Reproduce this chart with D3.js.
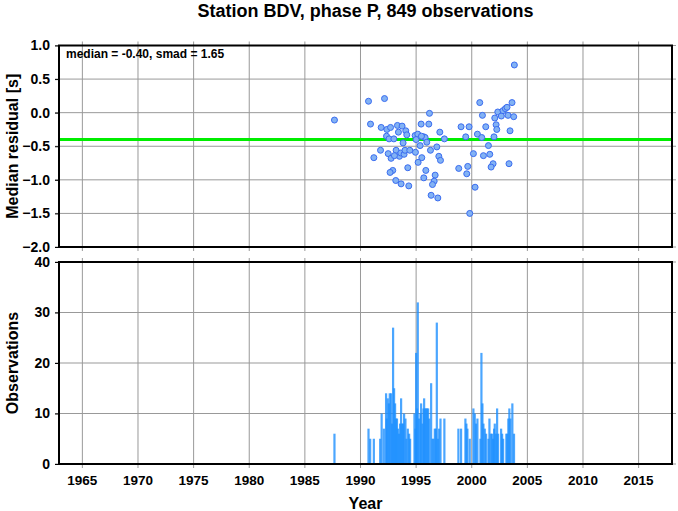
<!DOCTYPE html>
<html><head><meta charset="utf-8">
<script src="https://cdn.jsdelivr.net/npm/d3@7"></script>
<style>
body{margin:0;background:#fff;}
text{font-family:"Liberation Sans",Arial,Helvetica,sans-serif;font-weight:bold;fill:#000;}
</style></head>
<body><svg id="c" width="678" height="511"></svg>
<script>
const title = "Station BDV, phase P, 849 observations";
const statsLabel = "median = -0.40, smad = 1.65";
const medianValue = -0.40;
const xTicks = [1965,1970,1975,1980,1985,1990,1995,2000,2005,2010,2015];
const yTopTicks = [-2.0,-1.5,-1.0,-0.5,0.0,0.5,1.0];
const yBotTicks = [0,10,20,30,40];

// Residual points: [year, median residual]
const residYears = [1987.66,1990.72,1992.16,1990.90,1991.86,1992.37,1992.70,1993.32,1993.74,1994.07,1994.16,1993.41,1992.34,1992.57,1993.00,1993.83,1991.80,1991.20,1992.49,1992.75,1993.20,1993.50,1993.05,1993.62,1993.92,1994.00,1994.43,1994.94,1992.90,1992.66,1994.25,1993.17,1993.65,1994.34,1995.45,1996.20,1996.14,1994.91,1995.15,1995.00,1995.69,1995.81,1995.96,1995.36,1995.48,1997.13,1997.54,1996.86,1996.29,1995.51,1995.18,1997.04,1997.19,1995.87,1996.71,1995.69,1996.62,1996.47,1996.35,1996.95,1999.04,1999.76,1999.46,1998.83,1999.64,1999.55,1999.82,2000.30,2000.15,2000.72,2000.96,2000.51,2000.90,2001.26,2001.05,2001.50,2001.62,2001.92,2001.74,2002.00,2002.07,2002.19,2002.25,2002.34,2002.66,2002.81,2003.02,2003.17,2003.26,2003.44,2003.35,2003.62,2003.77,2003.83];
const residValues = [-0.11,0.17,0.21,-0.17,-0.22,-0.25,-0.22,-0.19,-0.20,-0.27,-0.33,-0.29,-0.35,-0.39,-0.39,-0.45,-0.56,-0.67,-0.61,-0.68,-0.56,-0.65,-0.64,-0.60,-0.62,-0.56,-0.56,-0.59,-0.86,-0.89,-0.82,-1.01,-1.06,-1.09,-0.17,-0.01,-0.17,-0.34,-0.32,-0.40,-0.36,-0.37,-0.44,-0.49,-0.35,-0.29,-0.39,-0.51,-0.56,-0.67,-0.74,-0.65,-0.71,-0.86,-0.93,-0.97,-1.02,-1.07,-1.23,-1.27,-0.21,-0.21,-0.36,-0.83,-0.80,-0.91,-1.50,-1.11,-0.61,0.15,-0.04,-0.32,-0.37,-0.21,-0.64,-0.49,-0.62,-0.76,-0.81,-0.36,-0.08,-0.18,-0.25,0.01,-0.05,0.03,0.06,0.08,-0.04,-0.27,-0.76,0.15,-0.06,0.71];

// Observation counts: [year, count]
const obsYears = [1987.66,1990.72,1990.87,1991.20,1991.77,1991.90,1992.10,1992.30,1992.36,1992.45,1992.55,1992.63,1992.75,1992.84,1992.93,1993.02,1993.11,1993.20,1993.28,1993.37,1993.47,1993.56,1993.65,1993.74,1993.83,1993.92,1994.04,1994.13,1994.25,1994.37,1994.46,1994.85,1994.94,1995.00,1995.08,1995.15,1995.27,1995.39,1995.45,1995.57,1995.66,1995.72,1995.81,1995.90,1995.99,1996.08,1996.17,1996.35,1996.47,1996.56,1996.68,1996.77,1996.86,1996.95,1997.07,1997.19,1997.54,1998.80,1999.04,1999.43,1999.52,1999.61,1999.82,2000.15,2000.27,2000.39,2000.51,2000.78,2000.87,2000.96,2001.05,2001.17,2001.29,2001.50,2001.59,2001.71,2001.83,2001.92,2002.01,2002.07,2002.19,2002.28,2002.37,2002.64,2002.73,2002.82,2003.11,2003.20,2003.29,2003.38,2003.47,2003.65,2003.80];
const obsCounts = [6,7,5,5,5,10,7,14,9,13,12,14,14,8,27,15,12,9,9,7,6,8,13,8,8,10,9,5,7,6,5,10,7,22,11,32,9,10,12,8,11,13,11,11,11,11,9,16,5,5,7,7,28,5,7,9,9,7,7,9,8,7,5,11,10,8,9,5,22,12,8,7,6,5,9,6,6,5,7,8,6,11,6,7,6,5,6,6,9,11,9,12,6];

const svg = d3.select("#c");
const L = 59, R = 672;
const x = d3.scaleLinear().domain([1962.9, 2018]).range([L, R]);
const yT = d3.scaleLinear().domain([-2, 1]).range([247, 45.5]);
const yB = d3.scaleLinear().domain([0, 40]).range([464, 262]);

function panel(y, ticks, fmt) {
  const top = y.range()[1], bot = y.range()[0];
  const g = svg.append("g");
  g.selectAll(".gx").data(xTicks).join("line")
    .attr("x1", d => x(d)).attr("x2", d => x(d)).attr("y1", top - 4).attr("y2", bot + 4)
    .attr("stroke", "#999").attr("stroke-width", 1);
  g.selectAll(".gy").data(ticks).join("line")
    .attr("x1", L - 4).attr("x2", R + 4).attr("y1", d => y(d)).attr("y2", d => y(d))
    .attr("stroke", "#999").attr("stroke-width", 1);
  const ax = d3.axisLeft(y).tickValues(ticks).tickFormat(fmt).tickSize(4).tickPadding(5);
  const a = g.append("g").attr("transform", `translate(${L},0)`).call(ax);
  a.select(".domain").remove();
  a.selectAll("line").attr("stroke", "#000").attr("stroke-width", 1);
  a.selectAll("text").style("font-size", "14px").style("font-family", "Liberation Sans, Arial, sans-serif").style("font-weight", "bold");
  return g;
}

panel(yT, yTopTicks, d3.format(".1f"));
panel(yB, yBotTicks, d3.format("d"));

// bars
svg.append("g").selectAll("rect").data(obsYears.map((d, i) => [d, obsCounts[i]])).join("rect")
  .attr("x", d => x(d[0]) - 1.1).attr("width", 2.2)
  .attr("y", d => yB(d[1])).attr("height", d => yB(0) - yB(d[1]))
  .attr("fill", "#1e90ff").attr("opacity", 0.8);

// median line
svg.append("line").attr("x1", L).attr("x2", R).attr("y1", yT(medianValue)).attr("y2", yT(medianValue))
  .attr("stroke", "#00ee00").attr("stroke-width", 3);

// points
svg.append("g").selectAll("circle").data(residYears.map((d, i) => [d, residValues[i]])).join("circle")
  .attr("cx", d => x(d[0])).attr("cy", d => yT(d[1])).attr("r", 3)
  .attr("fill", "#82b2f4").attr("stroke", "#3a6cf0").attr("stroke-width", 1);

// frames
[yT, yB].forEach(y => {
  svg.append("rect").attr("x", L).attr("y", y.range()[1]).attr("width", R - L).attr("height", y.range()[0] - y.range()[1])
    .attr("fill", "none").attr("stroke", "#000").attr("stroke-width", 2);
});

svg.append("g").selectAll("text").data(xTicks).join("text")
  .attr("x", d => x(d)).attr("y", 485).attr("text-anchor", "middle")
  .style("font-size", "13.5px").text(d => d);

svg.append("text").attr("x", (L + R) / 2).attr("y", 17).attr("text-anchor", "middle")
  .style("font-size", "18px").text(title);
svg.append("text").attr("x", 66).attr("y", 58).style("font-size", "12px").text(statsLabel);
svg.append("text").attr("x", (L + R) / 2).attr("y", 509).attr("text-anchor", "middle")
  .style("font-size", "16px").text("Year");
svg.append("text").attr("transform", `translate(18,${(yT.range()[0] + yT.range()[1]) / 2}) rotate(-90)`)
  .attr("text-anchor", "middle").style("font-size", "16px").text("Median residual [s]");
svg.append("text").attr("transform", `translate(18,${(yB.range()[0] + yB.range()[1]) / 2}) rotate(-90)`)
  .attr("text-anchor", "middle").style("font-size", "16px").text("Observations");
</script></body></html>
